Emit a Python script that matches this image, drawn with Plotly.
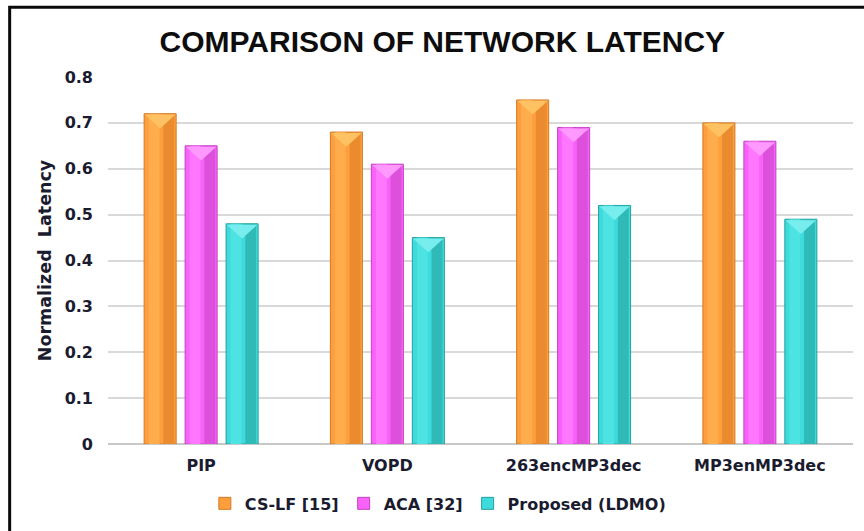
import plotly.graph_objects as go

# Benchmark applications and normalized latency per method
categories = ["PIP", "VOPD", "263encMP3dec", "MP3enMP3dec"]
cs_lf = [0.72, 0.68, 0.75, 0.70]
aca = [0.65, 0.61, 0.69, 0.66]
ldmo = [0.48, 0.45, 0.52, 0.49]
series_names = ["CS-LF [15]", "ACA [32]", "Proposed (LDMO)"]
y_ticks = [0, 0.1, 0.2, 0.3, 0.4, 0.5, 0.6, 0.7, 0.8]

series_values = [cs_lf, aca, ldmo]
palette = [
    dict(base="#FF9E3C", light="#FFAC4C", dark="#E98B2E", top="#FFC262", edge="#D27A26"),
    dict(base="#F862F8", light="#FF76FF", dark="#DC50DC", top="#FF98FF", edge="#C244C2"),
    dict(base="#3DDBDB", light="#4EE3E3", dark="#2FBAB8", top="#78EDED", edge="#249F9D"),
]

BAR_W = 0.172
GAP = 0.048
TOP_H = 0.032
TEXT = "#1b1b30"

xs = list(range(len(categories)))
fig = go.Figure()

for k, (name, vals, col) in enumerate(zip(series_names, series_values, palette)):
    off = -1.5 * BAR_W - GAP + k * (BAR_W + GAP)
    # body of the bar
    fig.add_trace(go.Bar(
        x=xs, y=vals, width=BAR_W, offset=off, name=name,
        marker=dict(color=col["base"], line=dict(color=col["edge"], width=1)),
        showlegend=True, legendrank=k,
    ))
    # highlight on the left half
    fig.add_trace(go.Bar(
        x=xs, y=vals, width=BAR_W * 0.34, offset=off + BAR_W * 0.14,
        marker=dict(color=col["light"], line=dict(width=0)),
        showlegend=False, hoverinfo="skip",
    ))
    # shaded right face
    fig.add_trace(go.Bar(
        x=xs, y=vals, width=BAR_W * 0.34, offset=off + BAR_W * 0.6,
        marker=dict(color=col["dark"], line=dict(width=0)),
        showlegend=False, hoverinfo="skip",
    ))
    # bevelled cap on top of each bar
    px, py = [], []
    for i, v in zip(xs, vals):
        left = i + off + 0.004
        right = i + off + BAR_W - 0.004
        px += [left, right, (left + right) / 2, left, None]
        py += [v - 0.002, v - 0.002, v - TOP_H, v - 0.002, None]
    fig.add_trace(go.Scatter(
        x=px, y=py, mode="lines", fill="toself", fillcolor=col["top"],
        line=dict(width=0, color=col["top"]), showlegend=False, hoverinfo="skip",
    ))

fig.update_layout(
    width=864, height=531,
    margin=dict(l=108, r=11, t=77, b=84),
    paper_bgcolor="white", plot_bgcolor="white",
    barmode="overlay",
    title=dict(
        text="<b>COMPARISON OF NETWORK LATENCY</b>",
        x=0.512, xanchor="center", y=0.921, yanchor="middle",
        font=dict(family="Liberation Sans", size=30, color="#0d0d0d"),
    ),
    font=dict(family="DejaVu Sans", color=TEXT),
    legend=dict(
        orientation="h", x=0.13, xanchor="left", y=-0.162, yanchor="middle",
        font=dict(family="DejaVu Sans", size=16, color=TEXT, weight="bold"),
        itemwidth=30, tracegroupgap=0,
    ),
    showlegend=True,
    shapes=[dict(
        type="rect", xref="paper", yref="paper",
        x0=-0.132, x1=1.2, y0=-0.4, y1=1.19,
        line=dict(color="#0a0a0a", width=3), fillcolor="rgba(0,0,0,0)",
    )],
)

fig.update_xaxes(
    range=[-0.5, 3.5], tickvals=xs, ticktext=categories,
    showgrid=False, zeroline=False, showline=False,
    tickfont=dict(family="DejaVu Sans", size=16, color=TEXT, weight="bold"),
    ticks="", ticklabelstandoff=10,
)
fig.update_yaxes(
    range=[0, 0.8], tickvals=y_ticks, ticktext=[f"{t:g}" for t in y_ticks],
    showgrid=True, gridcolor="#d9d9d9", gridwidth=1.5,
    zeroline=True, zerolinecolor="#c8c8c8", zerolinewidth=1.5,
    tickfont=dict(family="DejaVu Sans", size=16, color=TEXT, weight="bold"),
    ticks="", ticklabelstandoff=14,
    title=dict(text="<b>Normalized  Latency</b>", standoff=8,
               font=dict(family="DejaVu Sans", size=17.5, color=TEXT)),
)

fig.write_html("out.html")
